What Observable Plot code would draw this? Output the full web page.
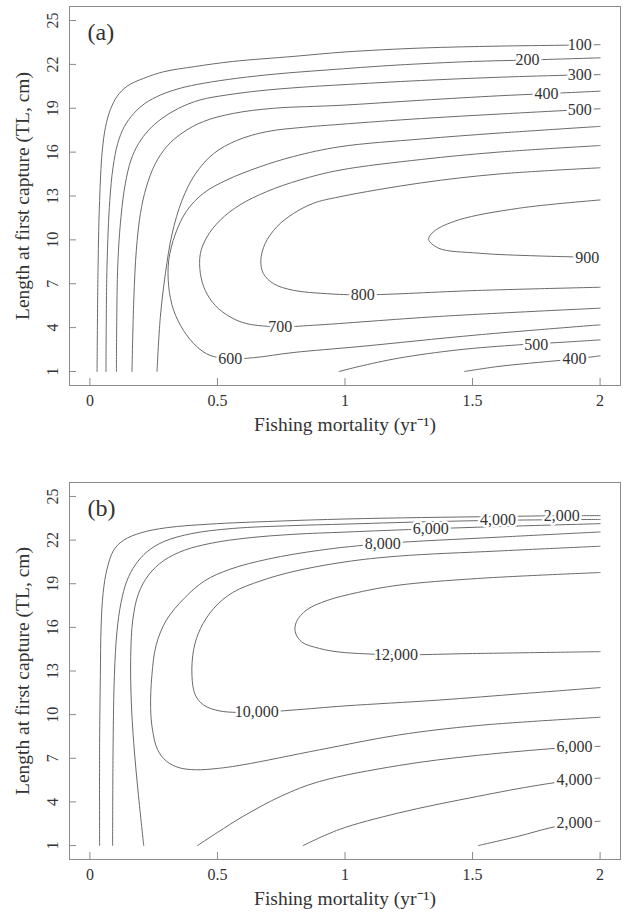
<!DOCTYPE html>
<html><head><meta charset="utf-8">
<script src="https://cdn.jsdelivr.net/npm/d3@7"></script>
<script src="https://cdn.jsdelivr.net/npm/@observablehq/plot@0.6"></script>
<style>body{margin:0;background:#fff} #chart svg{display:block}</style>
</head><body><div id="chart"></div>
<script>
// ---- axis tick values / labels ----
const xTicks = [0, 0.5, 1, 1.5, 2];
const xTickLabels = ["0", "0.5", "1", "1.5", "2"];
const yTicks = [1, 4, 7, 10, 13, 16, 19, 22, 25];
const xTitle = "Fishing mortality (yr⁻¹)";
const yTitle = "Length at first capture (TL, cm)";

// ---- panel (a) contour lines: [F, L] ----
const a100 = [[0.028,1],[0.032,8.2],[0.038,12.7],[0.048,16.0],[0.061,17.7],[0.08,18.9],[0.106,19.8],[0.145,20.5],[0.211,21.05],[0.29,21.5],[0.41,21.85],[0.56,22.2],[0.8,22.55],[1.0,22.85],[1.3,23.12],[1.6,23.25],[1.85,23.31],[2.0,23.35]];
const a200 = [[0.063,1],[0.067,8.2],[0.078,12.7],[0.091,15.0],[0.109,16.6],[0.135,17.75],[0.172,18.65],[0.217,19.35],[0.276,19.9],[0.354,20.37],[0.446,20.71],[0.576,21.05],[0.733,21.35],[0.93,21.62],[1.2,21.95],[1.5,22.2],[1.715,22.3],[2.0,22.45]];
const a300 = [[0.104,1],[0.109,8.15],[0.122,11.6],[0.139,13.86],[0.161,15.46],[0.191,16.6],[0.23,17.5],[0.282,18.3],[0.348,19.0],[0.432,19.57],[0.537,19.91],[0.667,20.2],[0.824,20.43],[0.98,20.6],[1.3,20.9],[1.6,21.12],[1.92,21.28],[2.0,21.3]];
const a400 = [[0.165,1],[0.172,5.9],[0.182,9.3],[0.198,11.8],[0.221,13.6],[0.256,15.2],[0.302,16.4],[0.361,17.3],[0.446,18.1],[0.563,18.65],[0.72,19.0],[0.98,19.2],[1.3,19.55],[1.6,19.85],[1.79,20.0],[2.0,20.17]];
const a500 = [[0.263,1],[0.276,4.7],[0.296,7.7],[0.322,10.4],[0.361,12.7],[0.413,14.5],[0.485,15.9],[0.576,16.8],[0.693,17.4],[0.837,17.7],[0.98,17.9],[1.3,18.3],[1.6,18.6],[1.92,18.9],[2.0,18.97]];
const a600 = [[2.0,17.76],[1.6,17.3],[1.3,16.9],[0.98,16.37],[0.798,15.7],[0.667,15.0],[0.537,14.1],[0.446,13.2],[0.38,12.0],[0.335,10.4],[0.309,8.6],[0.309,6.8],[0.328,5.2],[0.367,3.8],[0.419,2.7],[0.471,2.1],[0.55,1.87],[0.641,1.94],[0.8,2.3],[1.055,2.7],[1.52,3.5],[2.0,4.19]];
const a700 = [[2.0,16.45],[1.6,16.0],[1.3,15.5],[0.98,14.77],[0.824,14.1],[0.693,13.3],[0.589,12.4],[0.511,11.35],[0.459,10.2],[0.433,9.06],[0.433,7.7],[0.452,6.55],[0.491,5.52],[0.55,4.73],[0.615,4.27],[0.746,4.06],[0.876,4.16],[1.367,4.76],[2.0,5.33]];
const a800 = [[2.0,14.93],[1.6,14.5],[1.3,13.9],[0.98,12.95],[0.876,12.5],[0.798,11.8],[0.733,10.9],[0.687,9.75],[0.67,8.6],[0.68,7.7],[0.72,7.0],[0.798,6.55],[0.928,6.32],[1.07,6.24],[1.52,6.54],[2.0,6.76]];
const a900 = [[2.0,12.73],[1.68,12.16],[1.445,11.36],[1.35,10.6],[1.328,10.04],[1.367,9.43],[1.523,9.09],[1.758,8.9],[2.0,8.8]];
const a500low = [[0.977,1],[1.055,1.34],[1.21,1.91],[1.445,2.48],[1.68,2.82],[1.836,2.98],[2.0,3.16]];
const a400low = [[1.469,1],[1.6,1.34],[1.758,1.62],[1.9,1.85],[2.0,2.07]];
const aLabels = [[1.92,23.33,"100"],[1.715,22.3,"200"],[1.92,21.3,"300"],[1.79,20.0,"400"],[1.92,18.9,"500"],[0.55,1.87,"600"],[0.746,4.06,"700"],[1.07,6.24,"800"],[1.95,8.8,"900"],[1.75,2.85,"500"],[1.9,1.85,"400"]];

// ---- panel (b) contour lines: [F, L] ----
const b2000 = [[0.038,1],[0.038,8],[0.041,12.7],[0.044,16.1],[0.052,18.4],[0.067,20.0],[0.093,21.3],[0.133,22.0],[0.2,22.5],[0.3,22.85],[0.47,23.1],[0.73,23.3],[1.0,23.45],[1.3,23.55],[1.6,23.62],[1.85,23.68],[2.0,23.68]];
const b4000 = [[0.089,1],[0.091,8],[0.096,12.7],[0.106,15.7],[0.122,17.7],[0.145,19.2],[0.178,20.3],[0.224,21.2],[0.29,21.9],[0.4,22.45],[0.56,22.8],[0.8,23.0],[1.0,23.1],[1.3,23.25],[1.6,23.36],[2.0,23.42]];
const b6000 = [[0.211,1],[0.19,4.5],[0.172,8],[0.162,11],[0.16,14],[0.168,16.5],[0.19,18.3],[0.23,19.6],[0.29,20.6],[0.37,21.3],[0.48,21.8],[0.62,22.15],[0.8,22.4],[1.0,22.55],[1.336,22.78],[1.7,22.98],[2.0,23.13]];
const b8000 = [[2.0,22.56],[1.6,22.2],[1.148,21.76],[0.9,21.3],[0.7,20.7],[0.55,20.0],[0.45,19.2],[0.37,18.0],[0.3,16.5],[0.26,14.8],[0.243,12.7],[0.238,10.5],[0.245,9.0],[0.265,7.6],[0.3,6.8],[0.35,6.35],[0.414,6.21],[0.5,6.3],[0.6,6.55],[0.9,7.58],[1.21,8.6],[1.52,9.25],[2.0,9.82]];
const b10000 = [[2.0,21.58],[1.6,21.25],[1.21,20.9],[1.0,20.5],[0.8,19.85],[0.67,19.2],[0.56,18.4],[0.485,17.3],[0.433,15.9],[0.407,14.5],[0.4,12.7],[0.413,11.35],[0.446,10.66],[0.51,10.25],[0.654,10.16],[0.8,10.32],[1.0,10.6],[1.367,11.0],[1.7,11.45],[2.0,11.86]];
const b12000 = [[2.0,19.77],[1.52,19.36],[1.21,18.9],[1.05,18.4],[0.93,17.85],[0.85,17.2],[0.81,16.4],[0.805,15.7],[0.83,15.0],[0.9,14.55],[0.98,14.3],[1.2,14.12],[1.5,14.2],[2.0,14.33]];
const b6000low = [[0.422,1],[0.5,1.9],[0.6,3.0],[0.75,4.4],[0.9,5.4],[1.21,6.5],[1.52,7.2],[1.9,7.77],[2.0,7.82]];
const b4000low = [[0.836,1],[0.977,2.1],[1.21,3.24],[1.52,4.38],[1.758,5.15],[1.9,5.5],[2.0,5.64]];
const b2000low = [[1.523,1],[1.68,1.64],[1.8,2.2],[1.9,2.55],[2.0,2.67]];
const bLabels = [[1.85,23.68,"2,000"],[1.6,23.36,"4,000"],[1.336,22.78,"6,000"],[1.148,21.76,"8,000"],[0.654,10.16,"10,000"],[1.2,14.12,"12,000"],[1.9,7.77,"6,000"],[1.9,5.5,"4,000"],[1.9,2.55,"2,000"]];

const FONT = "'Liberation Serif', 'Times New Roman', serif";
const INK = "#333";
const GRID = "#8a8a8a";

function rowsOf(lines) {
  const rows = [];
  lines.forEach((pts, id) => pts.forEach(([F, L]) => rows.push({id, F, L})));
  return rows;
}

function panel({lines, labels, tag, height, marginTop, marginBottom}) {
  const width = 625, marginLeft = 69, marginRight = 5;
  const fw = width - marginLeft - marginRight;
  const fh = height - marginTop - marginBottom;
  return Plot.plot({
    width, height, marginLeft, marginRight, marginTop, marginBottom,
    x: {domain: [-0.08, 2.08], axis: null},
    y: {domain: [0.04, 25.96], axis: null},
    style: {fontFamily: FONT, background: "white"},
    marks: [
      Plot.line(rowsOf(lines), {x: "F", y: "L", z: "id", stroke: "#6a6a6a", strokeWidth: 1, curve: "catmull-rom"}),
      Plot.text(labels, {x: d => d[0], y: d => d[1], text: d => d[2], fontSize: 16, fill: INK,
        stroke: "white", strokeWidth: 5, strokeLinejoin: "round", paintOrder: "stroke"}),
      Plot.frame({stroke: GRID}),
      Plot.ruleX(xTicks, {x: d => d, insetTop: fh - 7, stroke: GRID}),
      Plot.ruleY(yTicks, {y: d => d, insetRight: fw - 7, stroke: GRID}),
      Plot.text(xTicks, {x: d => d, text: (d, i) => xTickLabels[i], frameAnchor: "bottom", dy: 15.5,
        lineAnchor: "middle", textAnchor: "middle", fontSize: 16, fill: INK}),
      Plot.text(yTicks, {y: d => d, text: d => String(d), frameAnchor: "left", dx: -17, rotate: -90,
        lineAnchor: "middle", textAnchor: "middle", fontSize: 16, fill: INK}),
      Plot.text([xTitle], {text: d => d, frameAnchor: "bottom", dy: 39, lineAnchor: "middle", textAnchor: "middle", fontSize: 19.5, fill: INK}),
      Plot.text([yTitle], {text: d => d, frameAnchor: "left", dx: -47, rotate: -90, lineAnchor: "middle", textAnchor: "middle", fontSize: 19.5, fill: INK}),
      Plot.text([tag], {text: d => d, frameAnchor: "top-left", dx: 18, dy: 26, lineAnchor: "middle", textAnchor: "start", fontSize: 24, fill: INK})
    ]
  });
}

const chart = document.getElementById("chart");
chart.append(panel({lines: [a100, a200, a300, a400, a500, a600, a700, a800, a900, a500low, a400low], labels: aLabels, tag: "(a)", height: 460, marginTop: 6, marginBottom: 75}));
chart.append(panel({lines: [b2000, b4000, b6000, b8000, b10000, b12000, b6000low, b4000low, b2000low], labels: bLabels, tag: "(b)", height: 455, marginTop: 22, marginBottom: 56}));
</script>
</body></html>
